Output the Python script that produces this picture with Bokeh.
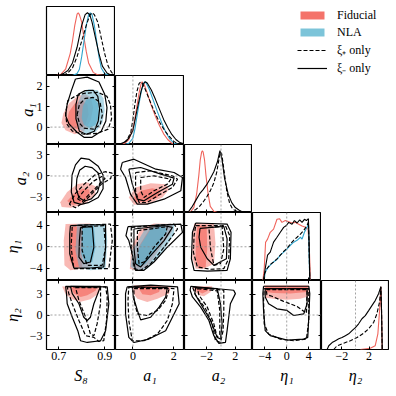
from bokeh.plotting import figure
from bokeh.models import (Range1d, LinearAxis, FixedTicker, CustomJSTickFormatter,
                          Span, Legend, LegendItem, GridPlot)
from bokeh.embed import file_html
from bokeh.resources import INLINE

# ---------------- parameters / axes ----------------
param_names = ["S8", "a1", "a2", "eta1", "eta2"]
param_labels = ["S₈", "a₁", "a₂", "η₁", "η₂"]
param_lo = [0.647, -0.85, -5.1, -6.25, -5.0]
param_hi = [0.947, 2.52, 4.4, 6.35, 5.0]
x_ticks = [[0.7, 0.9], [0, 2], [-2, 2], [-4, 0, 4], [-2, 2]]
y_ticks = [[], [0, 1, 2], [-3, 0, 3], [-4, 0, 4], [-3, 0, 3]]
ref_values = [None, 0, 0, 0, 0]
legend_labels = ["Fiducial", "NLA", "ξ₊ only", "ξ₋ only"]

# ---------------- 1D marginals (x, normalised density) ----------------
D_S8_fid = [(0.69,0),(0.71,0.02),(0.73,0.1),(0.75,0.35),(0.76,0.55),(0.77,0.8),(0.78,0.98),(0.785,1.0),(0.79,0.97),(0.8,0.85),(0.81,0.6),(0.82,0.38),(0.83,0.2),(0.85,0.05),(0.87,0.01),(0.9,0)]
D_S8_nla = [(0.76,0),(0.78,0.03),(0.79,0.1),(0.8,0.3),(0.81,0.55),(0.82,0.8),(0.83,0.97),(0.838,1.0),(0.845,0.97),(0.855,0.8),(0.865,0.55),(0.875,0.3),(0.885,0.12),(0.9,0.03),(0.92,0)]
D_S8_xim = [(0.7,0),(0.72,0.03),(0.74,0.08),(0.76,0.2),(0.78,0.45),(0.8,0.8),(0.815,0.97),(0.825,1.0),(0.835,0.97),(0.845,0.85),(0.86,0.6),(0.875,0.35),(0.89,0.15),(0.91,0.04),(0.93,0)]
D_S8_xip = [(0.72,0),(0.74,0.04),(0.76,0.12),(0.78,0.3),(0.8,0.55),(0.82,0.8),(0.835,0.96),(0.845,1.0),(0.855,0.97),(0.87,0.85),(0.885,0.6),(0.9,0.35),(0.915,0.15),(0.93,0.05),(0.945,0)]

D_a1_fid = [(-0.6,0),(-0.4,0.02),(-0.2,0.08),(0.0,0.25),(0.1,0.42),(0.2,0.62),(0.3,0.82),(0.4,0.97),(0.45,1.0),(0.55,0.96),(0.7,0.82),(0.9,0.62),(1.1,0.45),(1.3,0.3),(1.5,0.17),(1.7,0.08),(1.9,0.02),(2.1,0)]
D_a1_nla = [(-0.4,0),(-0.2,0.02),(0.0,0.1),(0.1,0.25),(0.2,0.45),(0.3,0.65),(0.4,0.83),(0.5,0.96),(0.57,1.0),(0.65,0.98),(0.8,0.88),(1.0,0.7),(1.2,0.52),(1.4,0.35),(1.6,0.2),(1.8,0.09),(2.0,0.02),(2.2,0)]
D_a1_xim = [(-0.8,0),(-0.6,0.01),(-0.4,0.04),(-0.2,0.1),(0.0,0.22),(0.2,0.55),(0.4,0.85),(0.5,0.96),(0.6,1.0),(0.7,0.98),(0.9,0.87),(1.1,0.72),(1.3,0.56),(1.5,0.4),(1.7,0.27),(1.9,0.16),(2.1,0.08),(2.3,0.03),(2.5,0.01)]
D_a1_xip = [(-0.7,0),(-0.5,0.02),(-0.3,0.06),(-0.1,0.2),(0.0,0.4),(0.1,0.65),(0.2,0.85),(0.3,0.97),(0.38,1.0),(0.45,0.98),(0.6,0.88),(0.8,0.72),(1.0,0.56),(1.2,0.42),(1.4,0.3),(1.6,0.2),(1.8,0.12),(2.0,0.05),(2.2,0.01)]

D_a2_fid = [(-4.6,0),(-4.2,0.02),(-3.8,0.08),(-3.4,0.3),(-3.1,0.6),(-2.9,0.85),(-2.7,0.98),(-2.6,1.0),(-2.5,0.98),(-2.3,0.85),(-2.1,0.6),(-1.8,0.3),(-1.5,0.1),(-1.0,0.02),(-0.5,0)]
D_a2_xim = [(-5.0,0),(-4.5,0.02),(-4.0,0.1),(-3.5,0.2),(-3.0,0.3),(-2.5,0.37),(-2.0,0.45),(-1.5,0.55),(-1.0,0.66),(-0.5,0.82),(-0.15,1.0),(0.15,0.85),(0.5,0.55),(1.0,0.3),(1.5,0.16),(2.0,0.08),(2.5,0.04),(3.0,0.01),(3.5,0)]
D_a2_xip = [(-4.5,0),(-4.0,0.02),(-3.5,0.05),(-3.0,0.1),(-2.5,0.17),(-2.0,0.25),(-1.5,0.35),(-1.0,0.48),(-0.6,0.65),(-0.3,0.85),(-0.1,0.98),(0.1,0.95),(0.4,0.7),(0.8,0.35),(1.2,0.15),(1.6,0.06),(2.0,0.03),(2.5,0.01),(3.0,0)]

D_eta1_fid = [(-4.35,0),(-4.11,0.19),(-3.86,0.62),(-3.5,0.67),(-3.01,0.78),(-2.4,0.83),(-1.78,0.99),(-1.3,1.0),(-0.87,0.94),(-0.26,0.97),(0.36,0.95),(0.97,0.93),(1.58,0.94),(2.19,0.91),(2.8,0.88),(3.41,0.86),(3.9,0.83),(4.15,0.46),(4.33,0)]
D_eta1_nla = [(-4.11,0),(-3.93,0.14),(-3.5,0.2),(-3.01,0.25),(-2.4,0.3),(-1.78,0.34),(-1.17,0.41),(-0.56,0.46),(0.05,0.51),(0.66,0.57),(1.27,0.62),(1.89,0.65),(2.5,0.7),(2.8,0.67),(3.23,0.78),(3.72,0.86),(3.96,0.93),(4.08,0.41),(4.21,0)]
D_eta1_xim = [(-4.23,0),(-3.93,0.19),(-3.5,0.41),(-3.01,0.46),(-2.4,0.62),(-1.78,0.7),(-1.17,0.78),(-0.56,0.86),(-0.07,0.89),(0.36,0.94),(0.97,0.91),(1.4,0.97),(1.89,0.93),(2.37,0.98),(2.8,0.94),(3.23,0.99),(3.6,0.97),(3.96,1.0),(4.08,0.67),(4.21,0)]
D_eta1_xip = [(-4.23,0),(-4.05,0.11),(-3.62,0.19),(-3.01,0.26),(-2.4,0.3),(-1.78,0.35),(-1.17,0.41),(-0.56,0.47),(0.05,0.52),(0.66,0.59),(1.27,0.65),(1.89,0.7),(2.5,0.75),(3.11,0.81),(3.72,0.89),(3.96,0.95),(4.08,0.56),(4.21,0)]

D_eta2_fid = [(0.71,0),(2.17,0.02),(2.9,0.06),(3.29,0.25),(3.54,0.62),(3.73,1.0),(3.83,0.57),(3.93,0)]
D_eta2_xim = [(-4.17,0),(-3.93,0.06),(-3.44,0.11),(-2.95,0.14),(-2.46,0.17),(-1.98,0.19),(-1.49,0.22),(-1.0,0.25),(-0.51,0.3),(-0.02,0.35),(0.46,0.41),(0.95,0.49),(1.44,0.54),(1.93,0.62),(2.41,0.7),(2.9,0.78),(3.39,0.89),(3.73,1.0),(3.83,0.62),(3.93,0)]
D_eta2_xip = [(-3.2,0),(-2.71,0.06),(-1.73,0.1),(-0.76,0.14),(0.22,0.19),(1.2,0.26),(1.93,0.33),(2.66,0.43),(3.15,0.57),(3.54,0.76),(3.73,1.0),(3.83,0.62),(3.93,0)]

# ---------------- 2D contours (68% / 95%) ----------------
S8_a1_fid95 = [(0.712,0.2),(0.72,0.65),(0.745,1.15),(0.78,1.5),(0.815,1.62),(0.84,1.45),(0.85,0.95),(0.84,0.35),(0.81,-0.2),(0.77,-0.35),(0.73,-0.15)]
S8_a1_fid68 = [(0.735,0.3),(0.745,0.75),(0.77,1.15),(0.8,1.3),(0.825,1.1),(0.83,0.6),(0.815,0.1),(0.785,-0.1),(0.75,0.0)]
S8_a1_nla95 = [(0.775,0.4),(0.78,1.1),(0.8,1.6),(0.83,1.85),(0.87,1.8),(0.895,1.4),(0.9,0.8),(0.89,0.2),(0.86,-0.25),(0.82,-0.35),(0.79,-0.1)]
S8_a1_nla68 = [(0.8,0.45),(0.805,1.0),(0.82,1.35),(0.85,1.45),(0.872,1.15),(0.875,0.55),(0.86,0.1),(0.835,-0.05),(0.81,0.1)]
S8_a1_xim95 = [(0.773,2.35),(0.824,2.44),(0.875,2.2),(0.9,1.6),(0.91,0.95),(0.905,0.3),(0.885,-0.2),(0.845,-0.5),(0.81,-0.5),(0.78,-0.25),(0.745,0.15),(0.73,0.56),(0.737,1.13),(0.755,1.78)]
S8_a1_xim68 = [(0.785,1.6),(0.815,1.78),(0.85,1.8),(0.87,1.5),(0.878,0.9),(0.872,0.3),(0.855,-0.2),(0.82,-0.35),(0.79,-0.2),(0.775,0.4),(0.775,1.1)]
S8_a1_xip95 = [(0.74,1.3),(0.73,0.7),(0.735,0.15),(0.76,-0.2),(0.81,-0.35),(0.87,-0.3),(0.915,-0.1),(0.93,0.4),(0.925,1.1),(0.91,1.5),(0.87,1.7),(0.81,1.65),(0.77,1.5)]
S8_a1_xip68 = [(0.78,0.6),(0.79,1.1),(0.815,1.4),(0.85,1.45),(0.88,1.2),(0.89,0.6),(0.88,0.1),(0.85,-0.1),(0.81,-0.05),(0.79,0.2)]

S8_a2_fid95 = [(0.707,-3.68),(0.737,-2.25),(0.782,-1.11),(0.827,-0.92),(0.863,-1.49),(0.857,-2.73),(0.812,-3.96),(0.752,-4.44),(0.713,-4.34)]
S8_a2_fid68 = [(0.737,-3.49),(0.767,-2.44),(0.803,-1.78),(0.833,-1.87),(0.836,-2.82),(0.803,-3.68),(0.761,-4.06)]
S8_a2_xim95 = [(0.758,0.13),(0.773,1.55),(0.797,2.5),(0.833,2.31),(0.872,1.36),(0.893,0.13),(0.893,-1.78),(0.872,-3.01),(0.833,-3.68),(0.797,-3.96),(0.767,-3.68),(0.755,-2.25)]
S8_a2_xim68 = [(0.779,-0.35),(0.791,0.79),(0.815,1.36),(0.845,1.17),(0.872,0.41),(0.881,-0.83),(0.869,-2.25),(0.842,-3.2),(0.812,-3.49),(0.788,-3.01),(0.776,-1.78)]
S8_a2_xip95 = [(0.746,-3.96),(0.773,-2.44),(0.812,-1.11),(0.857,0.13),(0.902,0.6),(0.932,0.41),(0.926,-0.35),(0.887,-1.11),(0.851,-2.25),(0.812,-3.58),(0.773,-4.44)]
S8_a2_xip68 = [(0.782,-3.2),(0.812,-1.97),(0.851,-0.73),(0.887,-0.07),(0.902,-0.35),(0.872,-1.3),(0.833,-2.54),(0.803,-3.58)]

a1_a2_fid95 = [(-0.2,-3.0),(0.13,-1.6),(0.87,-1.0),(1.6,-1.14),(1.77,-1.84),(1.44,-3.0),(0.7,-3.93),(0.05,-4.03)]
a1_a2_fid68 = [(0.05,-3.0),(0.38,-2.07),(0.95,-1.7),(1.36,-1.98),(1.2,-3.0),(0.62,-3.61),(0.13,-3.61)]
a1_a2_xim95 = [(-0.52,1.88),(0.05,2.35),(1.12,0.95),(2.01,0.49),(2.42,-0.21),(2.34,-2.07),(1.52,-3.24),(0.7,-3.93),(0.21,-3.93),(-0.12,-2.53),(-0.36,-0.21),(-0.6,0.95)]
a1_a2_xim68 = [(-0.2,0.95),(0.38,1.19),(1.36,0.26),(2.01,-0.3),(1.93,-1.14),(1.2,-2.31),(0.54,-3.47),(0.22,-3.24),(-0.03,-1.14)]
a1_a2_xip95 = [(0.13,0.49),(0.87,0.72),(1.93,0.02),(2.18,-0.45),(1.93,-1.6),(1.2,-2.77),(0.7,-3.7),(0.3,-3.7),(0.13,-2.07)]
a1_a2_xip68 = [(0.38,-0.21),(1.03,0.02),(1.85,-0.45),(1.68,-1.14),(1.03,-2.07),(0.54,-3.0),(0.38,-2.07)]

S8_eta1_fid95 = [(0.73,4.21),(0.838,4.33),(0.846,1.15),(0.838,-3.74),(0.795,-4.05),(0.751,-4.36),(0.725,-3.44),(0.722,1.15)]
S8_eta1_fid68 = [(0.751,3.6),(0.802,3.9),(0.802,-3.74),(0.766,-3.74),(0.748,-2.52),(0.748,1.46)]
S8_eta1_nla95 = [(0.78,4.21),(0.904,4.21),(0.911,1.15),(0.904,-4.05),(0.838,-4.36),(0.788,-3.74),(0.773,-0.68)]
S8_eta1_nla68 = [(0.802,3.9),(0.853,3.9),(0.86,-0.08),(0.846,-2.82),(0.817,-3.13),(0.798,-1.3)]
S8_eta1_xim95 = [(0.751,3.9),(0.838,4.08),(0.904,4.08),(0.904,-0.08),(0.896,-3.74),(0.838,-3.93),(0.766,-3.93),(0.748,-1.3),(0.748,2.37)]
S8_eta1_xim68 = [(0.795,3.6),(0.846,3.72),(0.853,-0.08),(0.838,-2.82),(0.809,-3.13),(0.788,-1.9),(0.79,1.15)]
S8_eta1_xip95 = [(0.759,3.9),(0.925,4.21),(0.933,1.15),(0.918,-4.05),(0.838,-4.05),(0.766,-4.05),(0.754,-0.08)]
S8_eta1_xip68 = [(0.802,3.72),(0.896,3.9),(0.904,-0.08),(0.889,-3.44),(0.824,-3.44),(0.802,-0.68)]

a1_eta1_fid95 = [(-0.15,-4.05),(-0.08,-0.08),(0.38,3.29),(1.03,4.33),(1.93,4.21),(1.93,2.99),(1.36,-0.08),(0.7,-3.74),(0.22,-4.47)]
a1_eta1_fid68 = [(0.1,-3.4),(0.25,-0.2),(0.8,3.2),(1.45,3.9),(1.6,3.1),(1.1,-0.2),(0.55,-3.3),(0.25,-3.9)]
a1_eta1_nla95 = [(-0.12,-3.74),(-0.03,-0.68),(0.54,2.99),(1.12,4.21),(2.01,4.21),(2.01,2.37),(1.52,-0.68),(0.7,-4.05),(0.22,-4.36)]
a1_eta1_nla68 = [(0.13,-3.13),(0.3,-0.08),(0.87,3.29),(1.52,3.9),(1.68,2.99),(1.2,-0.08),(0.62,-3.13),(0.3,-3.74)]
a1_eta1_xim95 = [(-0.24,3.72),(2.34,4.21),(2.42,2.68),(1.68,-0.08),(1.03,-2.82),(0.54,-4.36),(0.13,-4.36),(-0.03,-1.3),(-0.2,1.15),(-0.34,2.07)]
a1_eta1_xim68 = [(0.05,3.29),(1.52,3.9),(1.93,3.6),(1.52,1.15),(0.87,-1.6),(0.38,-3.74),(0.13,-3.13),(0.05,-0.08)]
a1_eta1_xip95 = [(-0.08,3.6),(2.01,4.21),(2.18,3.29),(1.52,-0.08),(0.87,-3.13),(0.38,-4.36),(0.05,-4.05),(-0.08,-0.08)]
a1_eta1_xip68 = [(0.22,2.99),(1.68,3.72),(1.6,2.37),(1.03,-0.08),(0.54,-2.82),(0.3,-3.13),(0.22,-0.08)]

a2_eta1_fid95 = [(-3.76,4.3),(-0.99,4.4),(-0.77,0.54),(-0.99,-3.13),(-2.38,-4.05),(-3.53,-4.05),(-3.99,-2.22),(-3.99,1.46)]
a2_eta1_fid68 = [(-3.3,3.9),(-2.01,4.03),(-1.92,-0.38),(-2.15,-3.74),(-3.07,-4.05),(-3.53,-2.22),(-3.53,1.46)]
a2_eta1_xim95 = [(-3.53,4.4),(0.85,4.21),(1.4,2.68),(1.31,-2.22),(0.85,-4.36),(-1.92,-4.53),(-3.76,-4.36),(-4.13,-2.22),(-3.99,2.68)]
a2_eta1_xim68 = [(-2.93,3.42),(0.39,3.78),(0.85,1.46),(0.76,-2.22),(-0.99,-3.44),(-1.92,-2.22),(-2.84,-0.08),(-3.07,1.76)]
a2_eta1_xip95 = [(-3.53,3.9),(0.62,3.9),(1.22,2.07),(1.08,-2.22),(0.39,-4.05),(-1.46,-4.17),(-3.3,-3.74),(-3.86,-1.0),(-3.76,2.07)]
a2_eta1_xip68 = [(-1.69,3.6),(0.15,3.78),(0.39,-0.38),(-0.07,-3.13),(-0.99,-3.44),(-1.46,-0.38)]

S8_eta2_fid95 = [(0.715,4.12),(0.882,4.17),(0.874,3.1),(0.838,2.3),(0.795,1.93),(0.759,2.3),(0.73,3.0)]
S8_eta2_fid68 = [(0.751,4.07),(0.867,4.07),(0.86,3.5),(0.824,2.85),(0.795,2.61),(0.766,3.1)]
S8_eta2_xim95 = [(0.73,4.17),(0.911,4.07),(0.918,1.63),(0.904,-2.27),(0.882,-3.73),(0.824,-3.98),(0.795,-3.73),(0.783,-2.27),(0.759,-0.32),(0.737,1.63),(0.734,3.1)]
S8_eta2_xim68 = [(0.751,4.17),(0.882,4.17),(0.853,1.63),(0.838,-0.32),(0.824,-0.8),(0.809,-0.32),(0.788,1.63),(0.759,3.1)]
S8_eta2_xip95 = [(0.737,4.07),(0.904,4.07),(0.911,2.61),(0.908,-0.8),(0.896,-3.73),(0.874,-3.83),(0.853,-3.24),(0.817,-3.0),(0.788,-0.8),(0.759,1.63),(0.744,3.1)]
S8_eta2_xip68 = [(0.773,3.98),(0.882,3.98),(0.882,1.63),(0.867,-1.29),(0.853,-3.0),(0.838,-2.76),(0.817,-0.32),(0.788,2.12)]

a1_eta2_fid95 = [(0.05,4.32),(1.85,4.17),(1.77,3.1),(1.2,2.37),(0.7,1.88),(0.22,2.37),(-0.03,3.34)]
a1_eta2_fid68 = [(0.22,4.17),(1.36,4.17),(1.28,3.34),(0.87,2.85),(0.46,3.0)]
a1_eta2_xim95 = [(-0.28,4.07),(0.87,4.32),(2.18,4.07),(2.26,1.63),(1.93,-0.32),(1.6,-2.27),(0.78,-3.49),(0.05,-3.98),(-0.2,-3.24),(-0.36,0.17),(-0.36,3.1)]
a1_eta2_xim68 = [(-0.03,4.07),(1.68,3.98),(1.6,2.61),(1.28,1.15),(0.87,-0.32),(0.38,-0.71),(0.22,0.66),(0.02,2.61)]
a1_eta2_xip95 = [(-0.2,4.07),(2.01,3.83),(1.93,1.63),(1.68,-0.8),(1.2,-2.76),(0.54,-3.73),(-0.03,-3.73),(-0.2,-0.8),(-0.24,2.12)]
a1_eta2_xip68 = [(0.05,3.83),(1.77,3.83),(1.6,2.12),(1.2,0.66),(0.7,-0.07),(0.22,0.17),(0.05,2.12)]

a2_eta2_fid95 = [(-3.99,4.17),(-1.22,4.17),(-1.46,3.34),(-2.38,2.71),(-3.07,2.85),(-3.76,3.49)]
a2_eta2_fid68 = [(-3.53,4.07),(-1.69,4.07),(-1.92,3.49),(-2.61,3.1),(-3.3,3.49)]
a2_eta2_xim95 = [(-4.23,4.17),(1.77,3.59),(2.01,3.1),(1.31,1.63),(1.08,-0.32),(0.85,-2.27),(0.62,-3.98),(-0.3,-4.12),(-1.0,-3.0),(-1.69,-0.8),(-2.84,1.15),(-3.99,2.61),(-4.31,3.59)]
a2_eta2_xim68 = [(-3.53,3.98),(-0.53,3.83),(-0.07,1.63),(0.15,-1.29),(-0.07,-3.49),(-0.53,-3.24),(-1.46,-0.8),(-2.84,1.63),(-3.67,3.1)]
a2_eta2_xip95 = [(-3.99,4.07),(0.39,3.59),(0.39,0.66),(0.29,-2.27),(-0.07,-3.98),(-0.77,-3.73),(-1.22,-1.29),(-2.15,0.9),(-3.53,2.85)]
a2_eta2_xip68 = [(-3.3,3.83),(-0.53,3.49),(-0.17,0.66),(-0.17,-2.76),(-0.53,-3.24),(-1.0,-1.29),(-1.92,1.15),(-3.07,2.85)]

eta1_eta2_fid95 = [(-4.11,4.32),(4.03,4.32),(4.03,2.71),(2.49,2.37),(0.05,2.22),(-2.39,2.37),(-3.93,2.51)]
eta1_eta2_fid68 = [(-3.93,4.17),(3.84,4.17),(3.72,3.34),(0.67,3.1),(-2.39,3.2),(-3.87,3.34)]
eta1_eta2_xim95 = [(-4.23,4.17),(4.03,4.17),(4.21,3.1),(4.03,-0.32),(3.84,-3.24),(3.11,-3.49),(0.05,-3.63),(-3.01,-3.0),(-3.93,-2.27),(-4.23,0.66),(-4.36,3.1)]
eta1_eta2_xim68 = [(-3.93,3.83),(3.72,3.83),(3.72,1.63),(3.11,0.17),(1.27,-0.07),(0.05,0.66),(-1.79,0.9),(-3.31,1.63),(-3.93,2.61)]
eta1_eta2_xip95 = [(-4.11,3.83),(4.03,3.83),(4.03,-0.8),(3.6,-3.49),(1.27,-3.73),(-1.17,-3.49),(-3.31,-2.76),(-4.11,-1.29),(-4.23,2.12)]
eta1_eta2_xip68 = [(-3.74,3.69),(3.72,3.69),(3.6,0.27),(1.89,1.24),(-0.57,1.98),(-2.7,2.71),(-3.62,2.95)]

# ---------------- styling ----------------
FID = "#f4736a"
NLA = "#5fb0cc"
FID_LINE = "#f0645c"
NLA_LINE = "#2fa3cc"
SERIF = "Liberation Serif"
col_w = [69, 69, 68, 69, 68]
row_h = [69, 69, 68, 68, 69]
ylabel_standoff = [0, -2, -2, 6, 6]
fmt_code = "const s = Math.abs(tick).toString(); return tick < 0 ? '\u2212' + s : s;"

G = globals()


def pts_xy(pts, close=False):
    xs = [q[0] for q in pts]
    ys = [q[1] for q in pts]
    if close:
        xs.append(pts[0][0])
        ys.append(pts[0][1])
    return xs, ys


def add_axis(p, side, ticks, labeled, label=None, fixed=None, label_standoff=2):
    ax = LinearAxis(ticker=FixedTicker(ticks=ticks, minor_ticks=[]),
                    major_tick_in=3, major_tick_out=0,
                    minor_tick_in=0, minor_tick_out=0,
                    axis_line_color=None, major_tick_line_color="black",
                    major_tick_line_width=1)
    if labeled:
        ax.formatter = CustomJSTickFormatter(code=fmt_code)
        ax.major_label_text_font = SERIF
        ax.major_label_text_font_size = "12px"
        ax.major_label_text_color = "black"
        ax.major_label_standoff = 2 if side == "below" else 4
        if label is not None:
            ax.axis_label = label
            ax.axis_label_text_font = SERIF
            ax.axis_label_text_font_style = "italic"
            ax.axis_label_text_font_size = "16px"
            ax.axis_label_text_color = "black"
            ax.axis_label_standoff = label_standoff
    else:
        ax.major_label_text_color = None
        ax.fixed_location = fixed
    p.add_layout(ax, side)


def make_panel(r, c):
    diag = r == c
    xr = Range1d(param_lo[c], param_hi[c])
    yr = Range1d(0, 1.1) if diag else Range1d(param_lo[r], param_hi[r])
    p = figure(frame_width=col_w[c], frame_height=row_h[r], x_range=xr, y_range=yr,
               x_axis_location=None, y_axis_location=None, toolbar_location=None,
               output_backend="svg",
               min_border_left=46 if c == 0 else 0, min_border_right=0,
               min_border_top=0, min_border_bottom=40 if r == 4 else 0,
               outline_line_color="black", outline_line_width=1.2,
               background_fill_color="white", border_fill_color="white")
    p.grid.visible = False
    px = param_names[c]
    py = param_names[r]
    if diag:
        for ds, color, dash in [("fid", FID_LINE, "solid"), ("nla", NLA_LINE, "solid"),
                                ("xip", "black", "4 2"), ("xim", "black", "solid")]:
            name = f"D_{px}_{ds}"
            if name in G:
                xs, ys = pts_xy(G[name])
                p.line(xs, ys, line_color=color, line_width=1.1, line_dash=dash)
    else:
        for ds, color in [("fid", FID), ("nla", NLA)]:
            for lvl, alpha in [("95", 0.5), ("68", 0.75)]:
                name = f"{px}_{py}_{ds}{lvl}"
                if name in G:
                    xs, ys = pts_xy(G[name])
                    p.patch(xs, ys, fill_color=color, fill_alpha=alpha, line_color=None)
        for ds, dash in [("xip", "4 2"), ("xim", "solid")]:
            for lvl in ["95", "68"]:
                xs, ys = pts_xy(G[f"{px}_{py}_{ds}{lvl}"], close=True)
                p.line(xs, ys, line_color="black", line_width=1.2, line_dash=dash)
    # reference lines
    if ref_values[c] is not None:
        p.add_layout(Span(location=ref_values[c], dimension="height", line_color="#8a8a8a",
                          line_dash="2 2", line_width=0.8))
    if not diag and ref_values[r] is not None:
        p.add_layout(Span(location=ref_values[r], dimension="width", line_color="#8a8a8a",
                          line_dash="2 2", line_width=0.8))
    # axes / ticks
    if r == 4:
        add_axis(p, "below", x_ticks[c], True, label=param_labels[c], label_standoff=4)
    else:
        add_axis(p, "below", x_ticks[c], False, fixed=yr.start)
    if not diag:
        if c == 0:
            add_axis(p, "left", y_ticks[r], True, label=param_labels[r],
                     label_standoff=ylabel_standoff[r])
        else:
            add_axis(p, "left", y_ticks[r], False, fixed=xr.start)
        add_axis(p, "above", x_ticks[c], False, fixed=yr.end)
        add_axis(p, "right", y_ticks[r], False, fixed=xr.end)
    return p


children = []
for r in range(5):
    for c in range(r + 1):
        children.append((make_panel(r, c), r, c))

# ---------------- legend panel ----------------
lp = figure(frame_width=col_w[2] + col_w[3] + col_w[4], frame_height=row_h[0] + row_h[1],
            x_range=Range1d(-100, -99), y_range=Range1d(-100, -99),
            x_axis_location=None, y_axis_location=None, toolbar_location=None,
            output_backend="svg", min_border=0, outline_line_color=None,
            background_fill_color="white", border_fill_color="white")
lp.grid.visible = False
fx, fy = pts_xy(S8_a1_fid95)
nx, ny = pts_xy(S8_a1_nla95)
px_, py_ = pts_xy(S8_a1_xip95, close=True)
mx, my = pts_xy(S8_a1_xim95, close=True)
r_fid = lp.patch(fx, fy, fill_color=FID, fill_alpha=1.0, line_color=None)
r_nla = lp.patch(nx, ny, fill_color="#7cc4d9", fill_alpha=1.0, line_color=None)
r_xip = lp.line(px_, py_, line_color="black", line_width=1.2, line_dash="4 2")
r_xim = lp.line(mx, my, line_color="black", line_width=1.2)
legend = Legend(items=[LegendItem(label=legend_labels[0], renderers=[r_fid]),
                       LegendItem(label=legend_labels[1], renderers=[r_nla]),
                       LegendItem(label=legend_labels[2], renderers=[r_xip]),
                       LegendItem(label=legend_labels[3], renderers=[r_xim])],
                location=(113, 68), glyph_width=30, glyph_height=10, label_height=16,
                label_width=40, spacing=1, padding=0, margin=0, label_standoff=10,
                border_line_color=None, background_fill_alpha=0,
                label_text_font=SERIF, label_text_font_size="12px",
                label_text_color="black")
lp.add_layout(legend)
children.append((lp, 0, 2, 2, 3))

grid = GridPlot(children=children, toolbar_location=None, margin=(6, 0, 0, 0))

open("out.html", "w").write(file_html(grid, INLINE))
